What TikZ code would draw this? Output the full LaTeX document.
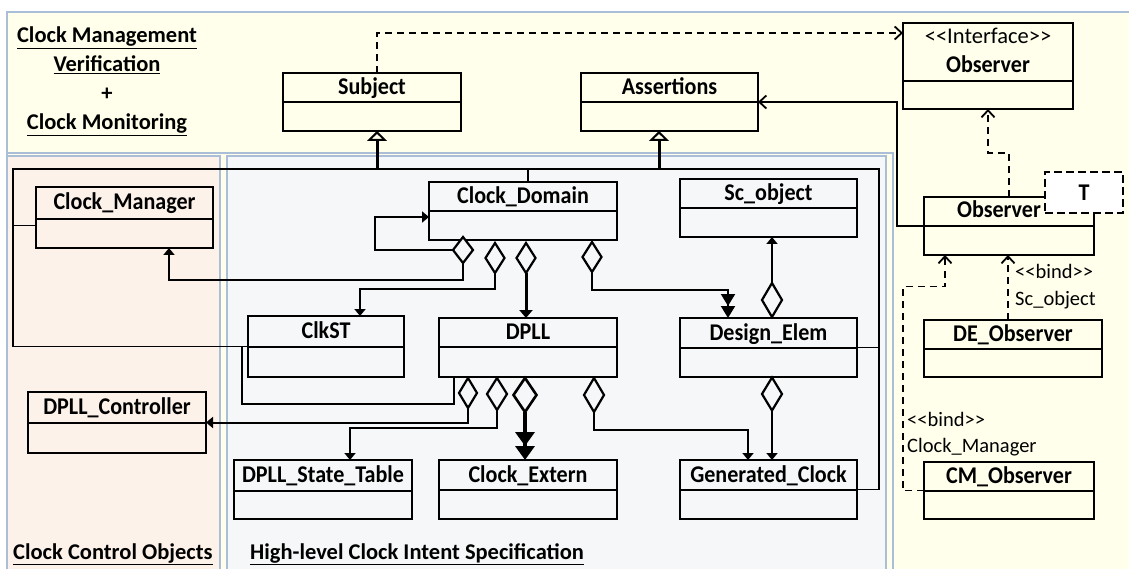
\documentclass[tikz,border=0pt]{standalone}
\usepackage{fontspec}
\setmainfont{Carlito}
\newfontfamily\boldnarrow{Carlito}[FakeStretch=0.92]
\usetikzlibrary{arrows.meta,shapes.geometric}
\definecolor{bgy}{RGB}{255,255,236}
\definecolor{bgp}{RGB}{253,242,234}
\definecolor{bgg}{RGB}{246,247,248}
\definecolor{bdr}{RGB}{170,190,216}
\newcommand\umlcls[7]{%
  \node[clsbox,anchor=north west,minimum width={(#4)-(#2)},minimum height={(#6)-(#3)}] (#1) at (#2,#3) {};
  \draw[line width=2.2pt] (#2,#5) -- (#4,#5);
  \node[clstext] (#1t) at ({((#2)+(#4))/2},{((#3)+(#5))/2}) {#7};
}
\begin{document}
\begin{tikzpicture}[x=1pt,y=-1pt,
  clsbox/.style={draw=black,line width=2.2pt,inner sep=0pt,outer sep=0pt,rectangle},
  clstext/.style={font=\boldnarrow\fontsize{24}{28}\selectfont\bfseries,inner sep=0pt,text height=18pt,text depth=4pt},
  bindtext/.style={font=\fontsize{20.5}{24}\selectfont,inner sep=0pt,anchor=west,text height=13pt,text depth=3pt},
  titletext/.style={font=\fontsize{22.5}{27}\selectfont\bfseries,inner sep=0pt,text height=17pt,text depth=5pt},
  conn/.style={line width=2pt},
  framel/.style={line width=1.7pt},
  arr/.style={line width=2pt,-{Triangle[length=7pt,width=11pt]}},
  arrthick/.style={line width=3pt,-{Triangle[length=8pt,width=13pt]}},
  dblarr/.style={line width=2pt,-{Triangle[length=12pt,width=14pt]Triangle[length=12pt,width=14pt]}},
  dblarrthick/.style={line width=3.5pt,-{Triangle[length=14pt,width=19pt]Triangle[length=14pt,width=19pt]}},
  gen/.style={line width=3pt,-{Triangle[open,length=10pt,width=20pt,line width=2pt,fill=bgy]}},
  openarr/.style={line width=1.8pt,-{Straight Barb[length=7pt,width=13pt,line width=1.8pt]}},
  dep/.style={line width=1.8pt,dash pattern=on 7pt off 5pt,-{Straight Barb[length=7pt,width=13pt,line width=1.8pt]}},
  dia/.style={diamond,draw=black,line width=2.2pt,fill=bgg,inner sep=0pt,outer sep=0pt}
]
\useasboundingbox (0,0) rectangle (1129,569);
% backgrounds
\fill[white] (0,0) rectangle (1129,569);
\fill[bgy] (7,12) rectangle (1129,569);
\draw[bdr,line width=1.4pt] (7,569) -- (7,12) -- (1129,12);
\draw[bdr,line width=1.4pt] (7,153) -- (893,153) -- (893,569);
\filldraw[fill=bgp,draw=bdr,line width=1.4pt] (7,156) rectangle (220,575);
\filldraw[fill=bgg,draw=bdr,line width=1.4pt] (227,156) rectangle (886,575);

% titles
\node[titletext] (t1) at (107,37) {\underline{Clock Management}};
\node[titletext] (t2) at (107,66) {\underline{Verification}};
\node[titletext] (t3) at (107,95) {+};
\node[titletext] (t4) at (107,124) {\underline{Clock Monitoring}};
\node[titletext,anchor=west] (t5) at (13,553) {\underline{Clock Control Objects}};
\node[titletext,anchor=west] (t6) at (250,553) {\underline{High-level Clock Intent Specification}};

% classes
\umlcls{subj}{283}{73}{461}{102}{131}{Subject}
\umlcls{asrt}{581}{73}{758}{102}{131}{Assertions}
\umlcls{cm}{36}{187}{213}{219}{248}{Clock\_Manager}
\umlcls{cd}{429}{182}{617}{211}{240}{Clock\_Domain}
\umlcls{sco}{680}{179}{857}{208}{237}{Sc\_object}
\umlcls{clk}{248}{316}{404}{347}{377}{ClkST}
\umlcls{dpll}{439}{318}{617}{347}{377}{DPLL}
\umlcls{de}{680}{318}{857}{348}{377}{Design\_Elem}
\umlcls{dc}{28}{392}{206}{423}{453}{DPLL\_Controller}
\umlcls{dst}{234}{460}{412}{491}{519}{DPLL\_State\_Table}
\umlcls{ce}{439}{460}{617}{490}{519}{Clock\_Extern}
\umlcls{gc}{680}{460}{857}{490}{519}{Generated\_Clock}
\umlcls{deo}{924}{320}{1102}{349}{377}{DE\_Observer}
\umlcls{cmo}{924}{462}{1094}{491}{519}{CM\_Observer}

% interface observer
\node[clsbox,anchor=north west,minimum width=170,minimum height=86] (iobs) at (903,23) {};
\draw[line width=2.2pt] (903,81) -- (1073,81);
\node[font=\fontsize{22.5}{26}\selectfont,inner sep=0pt,text height=15pt,text depth=3pt] (iobst1) at (988,38) {<{}<Interface>{}>};
\node[clstext] (iobst2) at (988,66) {Observer};

% observer
\node[clsbox,anchor=north west,minimum width=170,minimum height=58] (obs) at (924,197) {};
\draw[line width=2.2pt] (924,226) -- (1094,226);
\node[clstext] (obst) at (999,211) {Observer};
\node[draw=black,line width=2.2pt,dash pattern=on 8pt off 4pt,fill=white,inner sep=0pt,outer sep=0pt,
      minimum width=78,minimum height=41,anchor=north west,font=\boldnarrow\fontsize{24}{28}\selectfont\bfseries] (tb) at (1045,172) {T};

% generalization tree
\coordinate (g1) at (377,169);
\coordinate (g2) at (659,169);
\coordinate (fr) at (879,169);
\draw[framel] (clk.west) -| (13,169) -- (fr) |- (gc.east);
\draw[framel] ([yshift=-8]cm.west) -- (13,225.5);
\draw[framel] (de.east) -- (de.east -| fr);
\draw[framel] ([xshift=99]cd.north west) -- ++(0,-13);
\draw[framel] ([xshift=15]dpll.south west) |- (242,404) -- (242,347);
\draw[gen] (g1) -- (g1 |- subj.south);
\draw[gen] (g2) -- (g2 |- asrt.south);

% dependencies / associations on the right
\draw[dep] ([xshift=94]subj.north west) |- ([yshift=-10]iobs.north west);
\draw[openarr] (obs.west) -- ++(-27,0) |- (asrt.east);
\draw[dep] ([xshift=85]obs.north west) -- ++(0,-44) -| ([xshift=85]iobs.south west);
\draw[dep] ([xshift=84]deo.north west) -- ([xshift=84]obs.south west);
\draw[dep] (cmo.west) -- ++(-21,0) -- ++(0,-204) -| ([xshift=21]obs.south west);
\node[bindtext] (b1) at (1015,274) {<{}<bind>{}>};
\node[bindtext] (b2) at (1015,300) {Sc\_object};
\node[bindtext] (b3) at (907,421) {<{}<bind>{}>};
\node[bindtext] (b4) at (907,447) {Clock\_Manager};

% aggregation diamonds (placed as nodes)
\node[dia,minimum width=20,minimum height=26] (dA) at (463,250) {};
\node[dia,minimum width=19,minimum height=30] (dB) at (495,258) {};
\node[dia,minimum width=19,minimum height=30] (dC) at (526,258) {};
\node[dia,minimum width=19,minimum height=30] (dD) at (592,257) {};
\node[dia,minimum width=18,minimum height=30] (dE) at (468,393) {};
\node[dia,minimum width=20,minimum height=32] (dF) at (497,394) {};
\node[dia,minimum width=23,minimum height=34,line width=2.6pt] (dG) at (525,395) {};
\node[dia,minimum width=20,minimum height=34] (dH) at (594,395) {};
\node[dia,minimum width=20,minimum height=34] (dI) at (772,300) {};
\node[dia,minimum width=20,minimum height=33] (dJ) at (772,394) {};

% aggregation connectors
\draw[arr] (dA.west) -- ++(-78,0) |- ([yshift=-6]cd.west);
\draw[arr] (dA.south) -- ++(0,17) -| ([xshift=133]cm.south west);
\draw[arr] (dB.south) -- ++(0,16) -| ([xshift=112]clk.north west);
\draw[arrthick] (dC.south) -- (dC.south |- dpll.north);
\draw[dblarr] (dD.south) -- ++(0,18) -| ([xshift=48]de.north west);
\draw[arr] (dI.north) -- (dI.north |- sco.south);
\draw[arr] (dJ.south) -- (dJ.south |- gc.north);
\draw[arr] (dE.south) |- (dc.east);
\draw[arr] (dF.south) -- ++(0,18) -| ([xshift=116]dst.north west);
\draw[dblarrthick] (dG.south) -- (dG.south |- ce.north);
\draw[arr,line width=2.6pt] (dH.south) -- ++(0,18) -| ([xshift=68]gc.north west);
\end{tikzpicture}
\end{document}
